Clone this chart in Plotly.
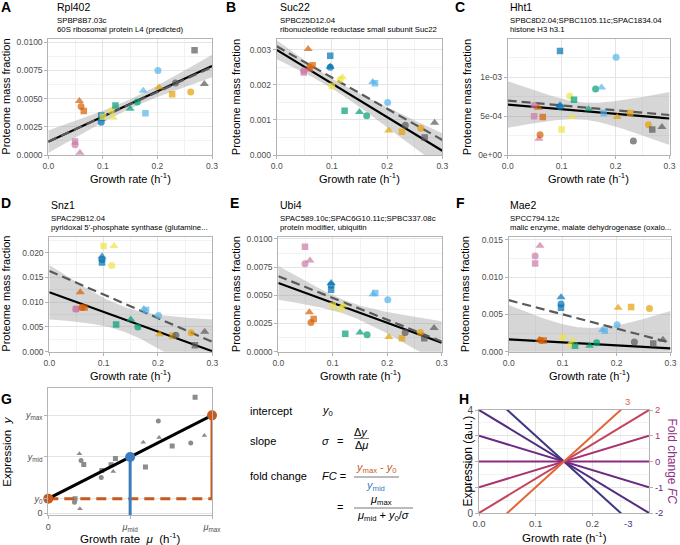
import numpy as np
import plotly.graph_objects as go

W, H = 680, 545
FONT = "Liberation Sans, Arial, Helvetica, sans-serif"
BORDER = "#b3b3b3"
GRID = "#e4e4e4"
GRID_MINOR = "#f2f2f2"
TICKC = "#4d4d4d"

# ---------------- data: conditions / replicates ----------------
condition_colors = ["#CC79A7", "#D55E00", "#0072B2", "#F0E442",
                    "#009E73", "#56B4E9", "#E69F00", "#595959"]
replicate_symbols = ["circle", "triangle-up", "square"]
replicate_sizes = [7, 8, 6.5]

growth_circle   = [0.049, 0.060, 0.097, 0.115, 0.163, 0.201, 0.261, 0.233]
growth_triangle = [0.058, 0.057, 0.097, 0.119, 0.150, 0.174, 0.203, 0.286]
growth_square   = [0.049, 0.065, 0.097, 0.100, 0.123, 0.178, 0.227, 0.268]

rpl402_circle   = [0.0009, 0.0043, 0.0029, 0.0039, 0.0047, 0.0075, 0.0056, 0.0064]
rpl402_triangle = [0.0002, 0.0048, 0.0032, 0.0033, 0.0041, 0.0057, 0.0060, 0.0063]
rpl402_square   = [0.0012, 0.0039, 0.0035, 0.0034, 0.0044, 0.0037, 0.0054, 0.0093]

suc22_circle    = [0.00240, 0.00250, 0.00250, 0.00215, 0.00112, 0.00150, 0.00076, 0.00085]
suc22_triangle  = [0.00243, 0.00302, 0.00252, 0.00222, 0.00123, 0.00208, 0.00070, 0.00092]
suc22_square    = [0.00235, 0.00256, 0.00283, 0.00197, 0.00126, 0.00205, 0.00066, 0.00050]

hht1_circle     = [0.00064, 0.00026, 0.00062, 0.00076, 0.00085, 0.00126, 0.00039, 0.00018]
hht1_triangle   = [0.00021, 0.00061, 0.00064, 0.00049, 0.00059, 0.00087, 0.00049, 0.00036]
hht1_square     = [0.00050, 0.00049, 0.00134, 0.00033, 0.00071, 0.00054, 0.00054, 0.00033]

snz1_circle     = [0.0086, 0.0089, 0.0186, 0.0174, 0.0050, 0.0073, 0.0038, 0.0033]
snz1_triangle   = [0.0087, 0.0120, 0.0192, 0.0213, 0.0065, 0.0086, 0.0035, 0.0040]
snz1_square     = [0.0086, 0.0089, 0.0180, 0.0213, 0.0055, 0.0084, 0.0032, 0.0013]

ubi4_circle     = [0.0078, 0.0026, 0.0059, 0.0038, 0.0015, 0.0046, 0.0017, 0.0017]
ubi4_triangle   = [0.0081, 0.0035, 0.0061, 0.0041, 0.0017, 0.0051, 0.0013, 0.0021]
ubi4_square     = [0.0093, 0.0029, 0.0055, 0.0041, 0.0016, 0.0052, 0.0012, 0.0012]

mae2_circle     = [0.0128, 0.0015, 0.0064, 0.0009, 0.0012, 0.0036, 0.0058, 0.0013]
mae2_triangle   = [0.0142, 0.0016, 0.0073, 0.0015, 0.0008, 0.0029, 0.0059, 0.0016]
mae2_square     = [0.0118, 0.0015, 0.0059, 0.0019, 0.0008, 0.0028, 0.0060, 0.0011]

panel_letters = ["A", "B", "C", "D", "E", "F"]
gene_names = ["Rpl402", "Suc22", "Hht1", "Snz1", "Ubi4", "Mae2"]
gene_ids = ["SPBP8B7.03c", "SPBC25D12.04", "SPBC8D2.04;SPBC1105.11c;SPAC1834.04",
            "SPAC29B12.04", "SPAC589.10c;SPAC6G10.11c;SPBC337.08c", "SPCC794.12c"]
gene_desc = ["60S ribosomal protein L4 (predicted)",
             "ribonucleotide reductase small subunit Suc22",
             "histone H3 h3.1",
             "pyridoxal 5'-phosphate synthase (glutamine...",
             "protein modifier, ubiquitin",
             "malic enzyme, malate dehydrogenase (oxalo..."]
panel_values = [
    (rpl402_circle, rpl402_triangle, rpl402_square),
    (suc22_circle, suc22_triangle, suc22_square),
    (hht1_circle, hht1_triangle, hht1_square),
    (snz1_circle, snz1_triangle, snz1_square),
    (ubi4_circle, ubi4_triangle, ubi4_square),
    (mae2_circle, mae2_triangle, mae2_square),
]

# fitted lines (value at growth 0 and at growth 0.3)
solid_at0   = [0.00118, 0.00300, 0.00065, 0.0120, 0.0061, 0.00165]
solid_at03  = [0.00790, 0.00012, 0.00047, 0.0001, 0.0008, 0.00045]
dashed_at0  = [0.00120, 0.00310, 0.00070, 0.0163, 0.0067, 0.0069]
dashed_at03 = [0.00780, 0.00043, 0.000515, 0.0020, 0.0009, 0.0012]
# confidence band half widths: at growth 0, minimum, at growth 0.3
band_h0   = [0.0010, 0.00027, 0.00030, 0.0055, 0.0015, 0.0046]
band_hmin = [0.0004, 0.00014, 0.00011, 0.0025, 0.0006, 0.0021]
band_h03  = [0.0010, 0.00050, 0.00034, 0.0064, 0.0019, 0.0050]

y_tickvals = [[0, 0.0025, 0.005, 0.0075, 0.01], [0, 0.001, 0.002, 0.003], [0, 0.0005, 0.001],
              [0, 0.005, 0.01, 0.015, 0.02], [0, 0.0025, 0.005, 0.0075, 0.01], [0, 0.005, 0.01, 0.015]]
y_ticktext = [["0.0000", "0.0025", "0.0050", "0.0075", "0.0100"], ["0.000", "0.001", "0.002", "0.003"],
              ["0e+00", "5e-04", "1e-03"], ["0.000", "0.005", "0.010", "0.015", "0.020"],
              ["0.0000", "0.0025", "0.0050", "0.0075", "0.0100"], ["0.000", "0.005", "0.010", "0.015"]]
y_max = [0.01027, 0.0033, 0.00149, 0.0232, 0.0102, 0.0154]
x_tickvals = [0, 0.1, 0.2, 0.3]
x_ticktext = ["0.0", "0.1", "0.2", "0.3"]

# ---------------- schematic G ----------------
g_y0, g_ymid, g_ymax = 1.0, 3.85, 6.7
g_mu_mid, g_mu_max = 0.15, 0.3
g_points_x = [0.049, 0.048, 0.058, 0.057, 0.060, 0.065, 0.098, 0.097, 0.115, 0.119,
              0.123, 0.174, 0.178, 0.2016, 0.203, 0.227, 0.261, 0.269, 0.286]
g_points_y = [1.0, 0.75, 0.30, 4.07, 3.61, 3.34, 2.93, 2.45, 3.32, 2.86,
              3.75, 4.86, 3.16, 6.32, 5.18, 4.61, 4.80, 7.93, 5.32]
g_points_symbol = ["square", "circle", "triangle-up", "triangle-up", "circle", "square", "square",
                   "circle", "square", "triangle-up", "square", "triangle-up", "square", "circle",
                   "triangle-up", "square", "circle", "square", "triangle-up"]
g_yrange = [-0.12, 8.55]

# ---------------- schematic H ----------------
h_fold_changes = [-3, -2, -1, 0, 1, 2, 3]
h_colors = ["#3e3585", "#512d82", "#6d2a82", "#8b2a80", "#a8336f", "#c4465c", "#e2653a"]
h_ymid, h_mu_mid, h_mu_max = 2.0, 0.15, 0.3

ORANGE = "#c65a1e"
BLUE = "#3b7bbf"

# ---------------- geometry (pixels) ----------------
geom = [
    ((48.3, 212.0), (39.3, 155.0)),
    ((276.7, 442.3), (39.3, 155.0)),
    ((507.7, 669.5), (39.3, 155.0)),
    ((49.3, 212.3), (236.7, 351.7)),
    ((278.3, 441.7), (236.7, 351.7)),
    ((508.7, 670.5), (236.7, 351.7)),
    ((48.3, 212.0), (388.3, 515.0)),
    ((479.0, 649.0), (410.0, 513.0)),
]
letter_pos = [(6, 7), (231, 7), (460, 7), (6, 203), (234, 203), (460, 203), (6, 399), (464, 399)]
ytitle_x = [6.5, 236, 467, 6.5, 236, 465]
title_x = [55, 278, 508, 49, 278, 508]


def px(x):
    return x / W


def py(y):
    return 1 - y / H


fig = go.Figure()
annotations = []
shapes = []
layout = dict(width=W, height=H, margin=dict(l=0, r=0, t=0, b=0, pad=0, autoexpand=False),
              paper_bgcolor="white", plot_bgcolor="white", showlegend=False,
              font=dict(family=FONT, color="black"))


def note(t, x, y, size=11, color="black", xanchor="center", yanchor="middle", angle=0, bold=False):
    annotations.append(dict(text=(f"<b>{t}</b>" if bold else t), x=px(x), y=py(y), xref="paper",
                            yref="paper", showarrow=False, xanchor=xanchor, yanchor=yanchor,
                            textangle=angle, font=dict(size=size, color=color, family=FONT)))


def axis_common():
    return dict(showline=True, mirror=True, linecolor=BORDER, linewidth=1, automargin=False,
                ticks="outside", ticklen=3, tickcolor=BORDER, tickwidth=1,
                tickfont=dict(size=8.5, color=TICKC, family=FONT),
                showgrid=True, gridcolor=GRID, gridwidth=1, zeroline=False)


xs_line = np.linspace(0, 0.3, 121)

for i in range(6):
    k = i + 1
    (x0, x1), (yt, yb) = geom[i]
    xa = axis_common()
    xa.update(domain=[px(x0), px(x1)], anchor=f"y{k}", range=[0, 0.3],
              tickmode="array", tickvals=x_tickvals, ticktext=x_ticktext,
              minor=dict(tickmode="linear", tick0=0, dtick=0.05, showgrid=True,
                         gridcolor=GRID_MINOR, gridwidth=1, ticks=""))
    ya = axis_common()
    step = y_tickvals[i][1]
    ya.update(domain=[py(yb), py(yt)], anchor=f"x{k}", range=[0, y_max[i]],
              tickmode="array", tickvals=y_tickvals[i], ticktext=y_ticktext[i],
              minor=dict(tickmode="linear", tick0=0, dtick=step / 2, showgrid=True,
                         gridcolor=GRID_MINOR, gridwidth=1, ticks=""))
    layout[f"xaxis{k}"] = xa
    layout[f"yaxis{k}"] = ya

    # confidence band
    p = np.sqrt(max(band_h0[i] ** 2 - band_hmin[i] ** 2, 0))
    q = np.sqrt(max(band_h03[i] ** 2 - band_hmin[i] ** 2, 0))
    xc = 0.3 * p / (p + q)
    b = p / xc
    hw = np.sqrt(band_hmin[i] ** 2 + b ** 2 * (xs_line - xc) ** 2)
    solid = solid_at0[i] + (solid_at03[i] - solid_at0[i]) / 0.3 * xs_line
    dashed = dashed_at0[i] + (dashed_at03[i] - dashed_at0[i]) / 0.3 * xs_line
    fig.add_trace(go.Scatter(x=np.concatenate([xs_line, xs_line[::-1]]),
                             y=np.concatenate([solid + hw, (solid - hw)[::-1]]),
                             fill="toself", fillcolor="rgba(153,153,153,0.4)",
                             line=dict(width=0), mode="lines", hoverinfo="skip",
                             xaxis=f"x{k}", yaxis=f"y{k}"))
    fig.add_trace(go.Scatter(x=xs_line, y=solid, mode="lines",
                             line=dict(color="black", width=2.2),
                             xaxis=f"x{k}", yaxis=f"y{k}"))
    fig.add_trace(go.Scatter(x=xs_line, y=dashed, mode="lines",
                             line=dict(color="#595959", width=2.2, dash="9px,5px"),
                             xaxis=f"x{k}", yaxis=f"y{k}"))
    # points
    growth_reps = [growth_circle, growth_triangle, growth_square]
    pxs, pys, cols, syms, sizes = [], [], [], [], []
    for c in range(8):
        for r in range(3):
            pxs.append(growth_reps[r][c])
            pys.append(panel_values[i][r][c])
            cols.append(condition_colors[c])
            syms.append(replicate_symbols[r])
            sizes.append(replicate_sizes[r])
    fig.add_trace(go.Scatter(x=pxs, y=pys, mode="markers",
                             marker=dict(color=cols, symbol=syms, size=sizes, line=dict(width=0)),
                             xaxis=f"x{k}", yaxis=f"y{k}"))

    # titles
    note(panel_letters[i], letter_pos[i][0], letter_pos[i][1], size=14, bold=True)
    note(gene_names[i], title_x[i], yt - 32, size=10.5, xanchor="left")
    note(gene_ids[i], title_x[i], yt - 18.5, size=7.8, xanchor="left")
    note(gene_desc[i], title_x[i], yt - 9.5, size=7.8, xanchor="left")
    note("Growth rate (h<sup>-1</sup>)", (x0 + x1) / 2, yb + 23, size=11)
    note("Proteome mass fraction", ytitle_x[i], (yt + yb) / 2, size=11, angle=-90)

# ---------------- panel G ----------------
(x0, x1), (yt, yb) = geom[6]
xa = axis_common()
xa.update(domain=[px(x0), px(x1)], anchor="y7", range=[0, g_mu_max],
          tickmode="array", tickvals=[0, g_mu_mid, g_mu_max],
          ticktext=["0", "<i>μ</i><sub>mid</sub>", "<i>μ</i><sub>max</sub>"],
          tickfont=dict(size=9, color=TICKC))
ya = axis_common()
ya.update(domain=[py(yb), py(yt)], anchor="x7", range=g_yrange,
          tickmode="array", tickvals=[0, g_y0, g_ymid, g_ymax],
          ticktext=["0", "<i>y</i><sub>0</sub>", "<i>y</i><sub>mid</sub>", "<i>y</i><sub>max</sub>"],
          tickfont=dict(size=9, color=TICKC))
layout["xaxis7"] = xa
layout["yaxis7"] = ya

fig.add_trace(go.Scatter(x=g_points_x, y=g_points_y, mode="markers",
                         marker=dict(color="#8c8c8c", symbol=g_points_symbol, size=5, line=dict(width=0)),
                         xaxis="x7", yaxis="y7"))
fig.add_trace(go.Scatter(x=[0, g_mu_max], y=[g_y0, g_y0], mode="lines",
                         line=dict(color=ORANGE, width=3, dash="10px,6px"), xaxis="x7", yaxis="y7"))
fig.add_trace(go.Scatter(x=[g_mu_max, g_mu_max], y=[g_y0, g_ymax], mode="lines",
                         line=dict(color=ORANGE, width=3), xaxis="x7", yaxis="y7"))
fig.add_trace(go.Scatter(x=[g_mu_mid, g_mu_mid], y=[g_yrange[0], g_ymid], mode="lines",
                         line=dict(color=BLUE, width=3), xaxis="x7", yaxis="y7"))
fig.add_trace(go.Scatter(x=[0, g_mu_max], y=[g_y0, g_ymax], mode="lines",
                         line=dict(color="black", width=3), xaxis="x7", yaxis="y7"))
fig.add_trace(go.Scatter(x=[0, g_mu_max], y=[g_y0, g_ymax], mode="markers", cliponaxis=False,
                         marker=dict(color=ORANGE, size=10), xaxis="x7", yaxis="y7"))
fig.add_trace(go.Scatter(x=[g_mu_mid], y=[g_ymid], mode="markers", cliponaxis=False,
                         marker=dict(color=BLUE, size=10), xaxis="x7", yaxis="y7"))
note("G", letter_pos[6][0], letter_pos[6][1], size=14, bold=True)
note("Growth rate  <i>μ</i>  (h<sup>-1</sup>)", (x0 + x1) / 2, 538, size=11.5)
note("Expression  <i>y</i>", 7, (yt + yb) / 2, size=11.5, angle=-90)

# ---------------- formulas ----------------
def frac_line(xa_, xb_, y):
    shapes.append(dict(type="line", xref="paper", yref="paper", x0=px(xa_), x1=px(xb_),
                       y0=py(y), y1=py(y), line=dict(color="#777777", width=1)))


note("intercept", 248, 411, xanchor="left")
note("<i>y</i><sub>0</sub>", 320, 411, xanchor="left")
note("slope", 248, 441, xanchor="left")
note("<i>σ</i>", 320, 441, xanchor="left")
note("=", 340, 441)
note("Δ<i>y</i>", 361, 432)
frac_line(354, 369, 438.5)
note("Δ<i>μ</i>", 361, 445)
note("fold change", 248, 476, xanchor="left")
note("<i>FC</i> =", 320, 476, xanchor="left")
note("<i>y</i><sub>max</sub> - <i>y</i><sub>0</sub>", 376, 468, color=ORANGE)
frac_line(354, 399, 477)
note("<i>y</i><sub>mid</sub>", 375, 486, color=BLUE)
note("=", 340, 507)
note("<i>μ</i><sub>max</sub>", 381, 500)
frac_line(354, 413, 508)
note("<i>μ</i><sub>mid</sub> + <i>y</i><sub>0</sub>/<i>σ</i>", 383, 516)

# ---------------- panel H ----------------
(x0, x1), (yt, yb) = geom[7]
xa = axis_common()
xa.update(domain=[px(x0), px(x1)], anchor="y8", range=[0, h_mu_max],
          tickmode="array", tickvals=[0, 0.1, 0.2], ticktext=["0.0", "0.1", "0.2"],
          tickfont=dict(size=9.5, color=TICKC), ticklen=2,
          minor=dict(tickmode="linear", tick0=0, dtick=0.05, showgrid=True,
                     gridcolor=GRID_MINOR, gridwidth=1, ticks=""))
ya = axis_common()
ya.update(domain=[py(yb), py(yt)], anchor="x8", range=[0, 2 * h_ymid],
          tickmode="array", tickvals=[0, 1, 2, 3, 4], ticktext=["0", "1", "2", "3", "4"],
          tickfont=dict(size=10, color=TICKC),
          minor=dict(tickmode="linear", tick0=0, dtick=0.5, showgrid=True,
                     gridcolor=GRID_MINOR, gridwidth=1, ticks=""))
layout["xaxis8"] = xa
layout["yaxis8"] = ya
right_vals = [0, 1, 2, 3, 4]
right_fc = [-2, -1, 0, 1, 2]
right_text = [f"<span style='color:{h_colors[h_fold_changes.index(f)]}'>{f}</span>" for f in right_fc]
layout["yaxis9"] = dict(overlaying="y8", anchor="x8", side="right", range=[0, 2 * h_ymid], automargin=False,
                        tickmode="array", tickvals=right_vals, ticktext=right_text,
                        ticks="outside", ticklen=3, tickcolor=BORDER, showgrid=False, zeroline=False,
                        showline=False, tickfont=dict(size=9.5, color="#8b2a80"))

for fc, col in zip(h_fold_changes, h_colors):
    slope = fc * h_ymid / h_mu_max
    yl = h_ymid + slope * (xs_line - h_mu_mid)
    fig.add_trace(go.Scatter(x=xs_line, y=yl, mode="lines", line=dict(color=col, width=2),
                             xaxis="x8", yaxis="y8"))
fig.add_trace(go.Scatter(x=[h_mu_mid], y=[h_ymid], mode="markers", marker=dict(size=1, opacity=0),
                         xaxis="x8", yaxis="y9", hoverinfo="skip"))
for fc, yend, ysh in [(3, 2 * h_ymid, 9), (-3, 0, -10)]:
    xe = h_mu_mid + (yend - h_ymid) / (fc * h_ymid / h_mu_max)
    annotations.append(dict(text=str(fc), x=xe, y=yend, xref="x8", yref="y8", showarrow=False,
                            xanchor="center", yanchor="middle", xshift=7, yshift=ysh,
                            font=dict(size=9.5, color=h_colors[h_fold_changes.index(fc)])))
note("H", letter_pos[7][0], letter_pos[7][1], size=14, bold=True)
note("Growth rate (h<sup>-1</sup>)", (x0 + x1) / 2, 537, size=11.5)
note("Expression (a.u.)", 467, (yt + yb) / 2, size=12, angle=-90)
note("Fold change <i>FC</i>", 672, (yt + yb) / 2, size=12, color="#8f2f86", angle=90)

layout["annotations"] = annotations
layout["shapes"] = shapes
fig.update_layout(**layout)
fig.write_html("out.html", config={"displayModeBar": False},
               post_script="document.body.style.margin='0';document.body.style.overflow='hidden';")
